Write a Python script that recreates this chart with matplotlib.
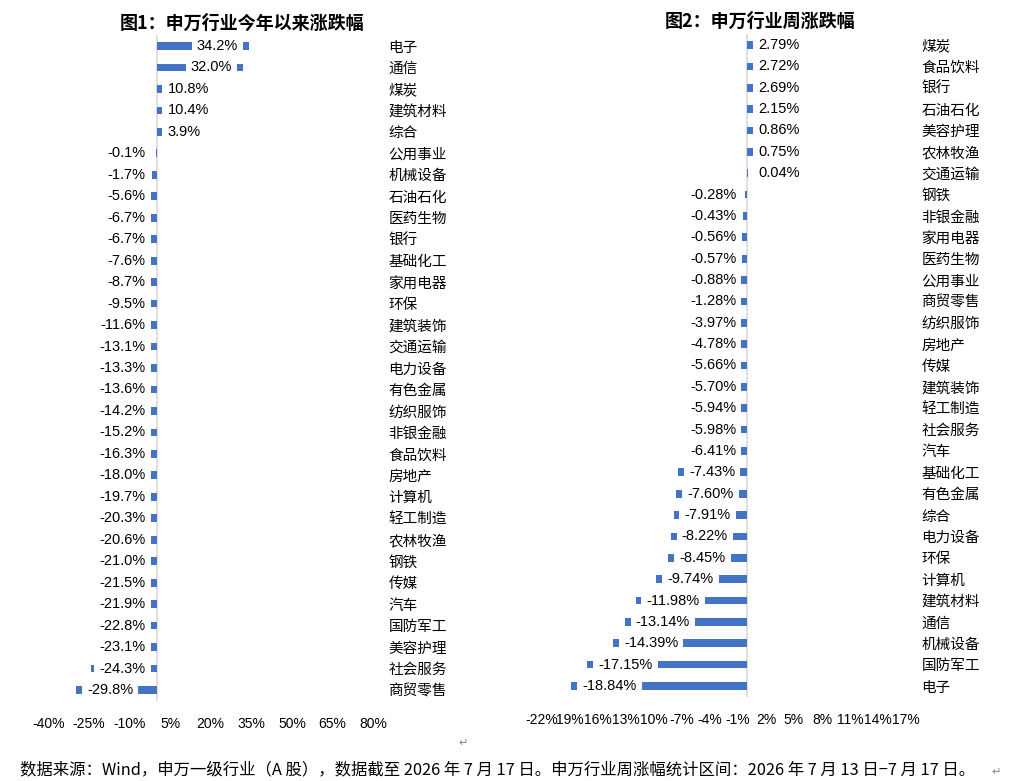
import matplotlib
matplotlib.use('Agg')
import matplotlib.pyplot as plt

# ===== data =====
ytd_names = ['电子', '通信', '煤炭', '建筑材料', '综合', '公用事业', '机械设备', '石油石化',
             '医药生物', '银行', '基础化工', '家用电器', '环保', '建筑装饰', '交通运输',
             '电力设备', '有色金属', '纺织服饰', '非银金融', '食品饮料', '房地产', '计算机',
             '轻工制造', '农林牧渔', '钢铁', '传媒', '汽车', '国防军工', '美容护理',
             '社会服务', '商贸零售']
ytd_values = [34.2, 32.0, 10.8, 10.4, 3.9, -0.1, -1.7, -5.6, -6.7, -6.7, -7.6, -8.7, -9.5,
              -11.6, -13.1, -13.3, -13.6, -14.2, -15.2, -16.3, -18.0, -19.7, -20.3, -20.6,
              -21.0, -21.5, -21.9, -22.8, -23.1, -24.3, -29.8]

week_names = ['煤炭', '食品饮料', '银行', '石油石化', '美容护理', '农林牧渔', '交通运输', '钢铁',
              '非银金融', '家用电器', '医药生物', '公用事业', '商贸零售', '纺织服饰', '房地产',
              '传媒', '建筑装饰', '轻工制造', '社会服务', '汽车', '基础化工', '有色金属',
              '综合', '电力设备', '环保', '计算机', '建筑材料', '通信', '机械设备',
              '国防军工', '电子']
week_values = [2.79, 2.72, 2.69, 2.15, 0.86, 0.75, 0.04, -0.28, -0.43, -0.56, -0.57, -0.88,
               -1.28, -3.97, -4.78, -5.66, -5.70, -5.94, -5.98, -6.41, -7.43, -7.60, -7.91,
               -8.22, -8.45, -9.74, -11.98, -13.14, -14.39, -17.15, -18.84]

ytd_ticks = [-40, -25, -10, 5, 20, 35, 50, 65, 80]
ytd_ticklabels = ['-40%', '-25%', '-10%', '5%', '20%', '35%', '50%', '65%', '80%']
week_ticks = [-22, -19, -16, -13, -10, -7, -4, -1, 2, 5, 8, 11, 14, 17]
# as rendered in the source (overlapping labels lost their minus signs)
week_ticklabels = ['-22%', '19%', '16%', '13%', '10%', '-7%', '-4%', '-1%',
                   '2%', '5%', '8%', '11%', '14%', '17%']

BAR_COLOR = '#4472C4'
NUM_FONT = ['Liberation Sans', 'Noto Sans CJK SC']
CJK_FONT = ['Noto Sans CJK SC', 'DejaVu Sans']

plt.rcParams['font.family'] = NUM_FONT

W, H = 1010, 781
fig = plt.figure(figsize=(W / 100, H / 100), dpi=100)


def px_axes(x0, x1, y0, y1):
    # pixel box (top-left origin) -> figure fraction
    return fig.add_axes([x0 / W, 1 - y1 / H, (x1 - x0) / W, (y1 - y0) / H])


def draw_panel(ax, names, values, xlim, ticks, ticklabels, fmt):
    n = len(names)
    ax.barh(range(n), values, height=0.36, color=BAR_COLOR, zorder=2)
    ax.axvline(0, color='#D9D9D9', lw=1.2, zorder=1)
    ax.set_xlim(*xlim)
    ax.set_ylim(n - 0.5, -0.5)
    for s in ax.spines.values():
        s.set_visible(False)
    ax.set_xticks(ticks)
    ax.set_xticklabels(ticklabels, fontsize=10, family=NUM_FONT)
    ax.tick_params(axis='x', length=0, pad=11.5)
    ax.yaxis.tick_right()
    ax.set_yticks(range(n))
    ax.set_yticklabels(names, ha='left', fontsize=10.5, family=CJK_FONT)
    ax.tick_params(axis='y', length=0, pad=11)

    # data labels with white box, Excel style (inside end, clamped near the axis)
    fig.canvas.draw()
    r = fig.canvas.get_renderer()
    pad = 11
    x0 = ax.transData.transform((0, 0))[0]
    for i, v in enumerate(values):
        t = ax.text(0, i, fmt.format(v), ha='left', va='center', fontsize=10.5,
                    family=NUM_FONT, zorder=3, clip_on=False,
                    bbox=dict(boxstyle='square,pad=0.35', fc='white', ec='none'))
        w = t.get_window_extent(r).width
        xv = ax.transData.transform((v, 0))[0]
        if v >= 0:
            left = max(x0 + pad, xv - pad - w)
        else:
            left = min(xv + pad, x0 - pad - w)
        t.set_x(ax.transData.inverted().transform((left, 0))[0])


ax1 = px_axes(48.3, 373.2, 35.3, 700.7)
draw_panel(ax1, ytd_names, ytd_values, (-40, 80), ytd_ticks, ytd_ticklabels, '{:.1f}%')

ax2 = px_axes(542, 906, 34.3, 696.7)
draw_panel(ax2, week_names, week_values, (-22, 17), week_ticks, week_ticklabels, '{:.2f}%')

fig.text(242 / W, 1 - 23 / H, '图1：申万行业今年以来涨跌幅', ha='center', va='center',
         fontsize=13, fontweight='bold', family=CJK_FONT)
fig.text(760 / W, 1 - 21 / H, '图2：申万行业周涨跌幅', ha='center', va='center',
         fontsize=13, fontweight='bold', family=CJK_FONT)

fig.text(20 / W, 1 - 770 / H,
         '数据来源：Wind，申万一级行业（A 股），数据截至 2026 年 7 月 17 日。'
         '申万行业周涨幅统计区间：2026 年 7 月 13 日−7 月 17 日。',
         ha='left', va='center', fontsize=11.8, family=CJK_FONT)
fig.text(463 / W, 1 - 743 / H, '↵', ha='center', va='center', fontsize=8,
         color='#808080', family=['DejaVu Sans'])
fig.text(996 / W, 1 - 772 / H, '↵', ha='center', va='center', fontsize=8,
         color='#808080', family=['DejaVu Sans'])

fig.savefig('out.png', dpi=100)
